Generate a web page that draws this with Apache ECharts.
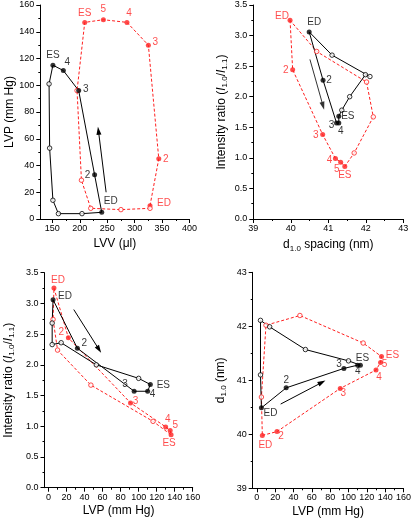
<!DOCTYPE html>
<html><head><meta charset="utf-8">
<script src="https://cdn.jsdelivr.net/npm/echarts@6/dist/echarts.min.js"></script>
<style>html,body{margin:0;padding:0;background:#fff}#c{width:414px;height:520px}</style>
</head><body><div id="c"></div>
<script>
// ---------- DATA ----------
// Panel 1: pressure-volume loops (filled points first, then open points)
const pvBlackLVV = [240, 227, 198, 170, 151, 144, 145, 151, 161, 204];
const pvBlackLVP = [5, 33, 96, 111, 115, 101, 53, 14, 4, 4];
const pvRedLVV   = [328, 344, 325, 286, 243, 209, 195, 203, 220, 275, 328];
const pvRedLVP   = [10, 45, 130, 147, 149, 147, 96, 29, 8, 7, 8];
// Panels 2-4: X-ray cycle data
const blackLVP   = [5, 32, 95, 110, 113, 100, 53, 14, 4, 4];
const blackRatio = [3.06, 2.27, 1.57, 1.57, 1.68, 1.78, 2.00, 2.36, 2.33, 2.68];
const blackD10   = [40.49, 40.86, 41.22, 41.28, 41.28, 41.36, 41.57, 41.99, 42.11, 41.10];
const redLVP     = [6, 22, 91, 130, 135, 136, 116, 47, 10, 5];
const redRatio   = [3.25, 2.44, 1.38, 0.99, 0.93, 0.86, 1.08, 1.67, 2.24, 2.74];
const redD10     = [39.98, 40.05, 40.85, 41.19, 41.33, 41.44, 41.69, 42.20, 42.02, 40.69];
// point labels (filled points)
const blackLabels = ['ED', '2', '3', '4', 'ES'];
const redLabels   = ['ED', '2', '3', '4', '5', 'ES'];
// direction arrows [x0, y0, x1, y1]
const arrowPV   = [248, 20, 234, 66];
const arrowDI   = [40.51, 2.61, 40.86, 1.85];
const arrowPI   = [28, 2.90, 56, 2.25];
const arrowPD   = [26, 40.56, 71, 40.96];
// tick values
const lvvTicks   = [150, 200, 250, 300, 350, 400];
const lvvMinor   = [175, 225, 275, 325, 375];
const lvpTicks   = [0, 20, 40, 60, 80, 100, 120, 140, 160];
const lvpMinor   = [10, 30, 50, 70, 90, 110, 130, 150];
const ratioTicks = [0, 0.5, 1.0, 1.5, 2.0, 2.5, 3.0, 3.5];
const ratioMinor = [0.25, 0.75, 1.25, 1.75, 2.25, 2.75, 3.25];
const dTicks     = [39, 40, 41, 42, 43];
const dMinor     = [39.5, 40.5, 41.5, 42.5];

// ---------- STYLE / LAYOUT ----------
const FONT = 'Liberation Sans, Arial, sans-serif';
const RED = '#ff1f1f';
const grids = [
  {left: 40.3, top: 5, width: 149.2, height: 214},
  {left: 253.3, top: 5, width: 150, height: 214},
  {left: 40.7, top: 272.7, width: 152, height: 215},
  {left: 252.7, top: 272.3, width: 152.3, height: 216}
];
// label centre offsets per filled point
const off = {
  p1b: [[9,-11],[-7,0],[7,-1],[4,-8],[0,-10]],
  p1r: [[14,-2],[7,0],[7,-3],[2,-9],[0,-10],[0,-9]],
  p2b: [[5,-10],[6,0],[-5,2],[2,8],[9,0]],
  p2r: [[-8,-4],[-7,0],[-7,1],[-6,2],[-4,7],[0,9]],
  p3b: [[12,-3],[7,-5],[-9,-7],[5,3],[13,1]],
  p3r: [[4,-8],[-7,-6],[5,-2],[2,-8],[5,-5],[-2,8]],
  p4b: [[9,5],[0,-8],[-5,-4],[0,6],[2,-7]],
  p4r: [[3,10],[4,5],[3,5],[3,7],[4,2],[11,-1]]
};

const xAxes = [], yAxes = [];
function addAxes(arr, gi, dim, min, max, ticks, minor, fmt, name, gap) {
  const isX = dim === 'x';
  arr.push({
    type: 'value', gridIndex: gi, min: min, max: max,
    position: isX ? 'bottom' : 'left',
    axisLine: {show: true, onZero: false, lineStyle: {color: '#000', width: 1}},
    axisTick: {show: true, customValues: ticks, length: 4, lineStyle: {color: '#000'}},
    axisLabel: {show: true, customValues: ticks, formatter: fmt, fontSize: 9, color: '#000',
      fontFamily: FONT, margin: isX ? 5 : 6},
    splitLine: {show: false},
    name: name, nameLocation: 'middle', nameGap: gap, nameRotate: isX ? 0 : 90,
    nameTextStyle: {fontSize: 12, color: '#000', fontFamily: FONT,
      rich: {
        n: {fontSize: 12, fontFamily: FONT, color: '#000', lineHeight: 16},
        i: {fontSize: 12, fontFamily: FONT, color: '#000', fontStyle: 'italic', lineHeight: 16},
        s: {fontSize: 8, fontFamily: FONT, color: '#000', lineHeight: 16, padding: [7, 0, 0, 0]}
      }}
  });
  arr.push({
    type: 'value', gridIndex: gi, min: min, max: max,
    position: isX ? 'bottom' : 'left',
    axisLine: {show: false, onZero: false},
    axisTick: {show: true, customValues: minor, length: 2, lineStyle: {color: '#000'}},
    axisLabel: {show: false},
    splitLine: {show: false}
  });
}
const f0 = v => String(v);
const f1 = v => v.toFixed(1);
const ratioName = '{n|Intensity ratio (}{i|I}{s|1.0}{n|/}{i|I}{s|1.1}{n|)}';
// panel 1
addAxes(xAxes, 0, 'x', 128, 400, lvvTicks, lvvMinor, f0, '{n|LVV (μl)}', 17);
addAxes(yAxes, 0, 'y', 0, 160, lvpTicks, lvpMinor, f0, '{n|LVP (mm Hg)}', 22);
// panel 2
addAxes(xAxes, 1, 'x', 39, 43, dTicks, dMinor, f0, '{n|d}{s|1.0}{n| spacing (nm)}', 18);
addAxes(yAxes, 1, 'y', 0, 3.5, ratioTicks, ratioMinor, f1, ratioName, 24);
// panel 3
addAxes(xAxes, 2, 'x', -4.5, 160, lvpTicks, lvpMinor, f0, '{n|LVP (mm Hg)}', 15);
addAxes(yAxes, 2, 'y', 0, 3.5, ratioTicks, ratioMinor, f1, ratioName, 28);
// panel 4
addAxes(xAxes, 3, 'x', -4.5, 160, lvpTicks, lvpMinor, f0, '{n|LVP (mm Hg)}', 15);
addAxes(yAxes, 3, 'y', 39, 43, dTicks, dMinor, f0, '{n|d}{s|1.0}{n| (nm)}', 24);

const series = [];
function addLoop(gi, xs, ys, labels, offs, color, dashed) {
  const pts = xs.map((x, i) => [x, ys[i]]);
  series.push({
    type: 'line', xAxisIndex: 2 * gi, yAxisIndex: 2 * gi,
    data: pts.concat([pts[0]]), symbol: 'none', silent: true, z: 2,
    lineStyle: {color: color, width: 1, type: dashed ? [3, 2] : 'solid'}
  });
  series.push({
    type: 'scatter', xAxisIndex: 2 * gi, yAxisIndex: 2 * gi, z: 3, silent: true,
    data: pts.map((p, i) => {
      const filled = i < labels.length;
      return {
        value: p,
        symbolSize: filled ? 5 : 4.5,
        itemStyle: filled ? {color: color} : {color: '#fff', borderColor: color, borderWidth: 1},
        label: filled ? {show: true, formatter: labels[i], position: 'inside', offset: offs[i],
          color: color, fontSize: 10, fontFamily: FONT, align: 'center', verticalAlign: 'middle'} : {show: false}
      };
    })
  });
}
function addArrow(gi, a, color) {
  series.push({
    type: 'line', xAxisIndex: 2 * gi, yAxisIndex: 2 * gi, data: [], silent: true, z: 4,
    markLine: {
      silent: true, animation: false, symbol: ['none', 'triangle'], symbolSize: [5, 8],
      label: {show: false}, lineStyle: {color: color, width: 1, type: 'solid'},
      data: [[{coord: [a[0], a[1]]}, {coord: [a[2], a[3]]}]]
    }
  });
}
addLoop(0, pvRedLVV, pvRedLVP, redLabels, off.p1r, RED, true);
addLoop(0, pvBlackLVV, pvBlackLVP, blackLabels, off.p1b, '#000', false);
addArrow(0, arrowPV, '#000');
addLoop(1, redD10, redRatio, redLabels, off.p2r, RED, true);
addLoop(1, blackD10, blackRatio, blackLabels, off.p2b, '#000', false);
addArrow(1, arrowDI, '#333');
addLoop(2, redLVP, redRatio, redLabels, off.p3r, RED, true);
addLoop(2, blackLVP, blackRatio, blackLabels, off.p3b, '#000', false);
addArrow(2, arrowPI, '#000');
addLoop(3, redLVP, redD10, redLabels, off.p4r, RED, true);
addLoop(3, blackLVP, blackD10, blackLabels, off.p4b, '#000', false);
addArrow(3, arrowPD, '#000');

const chart = echarts.init(document.getElementById('c'), null, {renderer: 'canvas'});
chart.setOption({
  animation: false,
  backgroundColor: '#fff',
  grid: grids.map(g => Object.assign({containLabel: false}, g)),
  xAxis: xAxes, yAxis: yAxes, series: series
});
</script></body></html>
